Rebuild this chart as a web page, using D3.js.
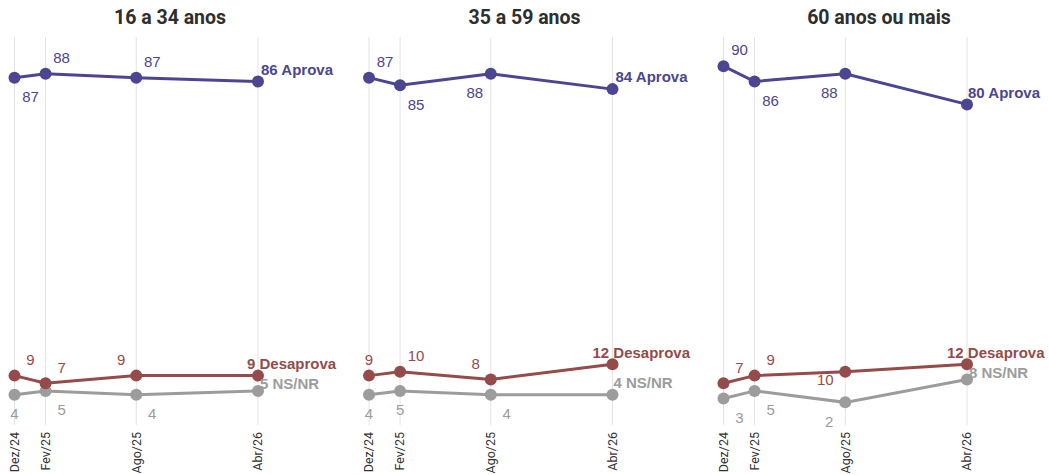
<!DOCTYPE html>
<html><head><meta charset="utf-8">
<script src="https://cdn.jsdelivr.net/npm/d3@7"></script>
<style>
html,body{margin:0;padding:0;background:#fff;}
</style></head>
<body>
<svg id="chart" width="1049" height="475"></svg>
<script>
// ---- DATA ----
const panels = ["16 a 34 anos", "35 a 59 anos", "60 anos ou mais"];
const dates = ["2024-12-01", "2025-02-01", "2025-08-01", "2026-04-01"];
const tickLabels = ["Dez/24", "Fev/25", "Ago/25", "Abr/26"];
const seriesNames = ["Aprova", "Desaprova", "NS/NR"];
const aprova    = [[87, 88, 87, 86], [87, 85, 88, 84], [90, 86, 88, 80]];
const desaprova = [[9, 7, 9, 9],     [9, 10, 8, 12],   [7, 9, 10, 12]];
const nsnr      = [[4, 5, 4, 5],     [4, 5, 4, 4],     [3, 5, 2, 8]];

// label placement codes (a=above, b=below, r=right, l=left)
const aprovaLab    = [["br", "ar", "ar"], ["ar", "br", "bl"], ["ar", "br", "bl"]];
const desaprovaLab = [["ar", "ar", "al"], ["a", "ar", "al"], ["ar", "ar", "l"]];
const nsnrLab      = [["b", "br", "br"], ["b", "b", "br"], ["br", "br", "bl"]];
const endLab = [["ar", "al", "r"], ["ar", "al2", "r2"], ["r2", "al2", "r"]];

const colors = ["#4b4592", "#954b49", "#9c9c9c"];

// ---- DRAW ----
const svg = d3.select("#chart");
const panelW = 354.5;
const parse = d3.timeParse("%Y-%m-%d");
const dvals = dates.map(parse);
const x = d3.scaleTime().domain([dvals[0], dvals[3]]).range([14.5, 258]);
const y = d3.scaleLinear().domain([0, 100]).range([410, 28]);

const allSeries = [aprova, desaprova, nsnr];
const allLab = [aprovaLab, desaprovaLab, nsnrLab];

const off = {
  a: [0, -16, "middle"], b: [0, 19, "middle"],
  ar: [16, -16, "middle"], br: [16, 19, "middle"],
  al: [-15, -16, "middle"], bl: [-16, 19, "middle"],
  l: [-20, 8, "middle"]
};
const endOff = {
  ar: [3, -12, "start"], al: [-11, -12, "start"], al2: [-20, -11, "start"],
  r: [2, -7, "start"], r2: [1, -12, "start"]
};

panels.forEach((title, p) => {
  const g = svg.append("g").attr("transform", `translate(${p * panelW},0)`);
  g.append("text").attr("x", 170).attr("y", 23.5).attr("text-anchor", "middle")
    .attr("font-family", "Roboto").attr("font-weight", "bold").attr("font-size", "19.5px")
    .attr("fill", "#2e2e2e").text(title);

  // gridlines
  g.selectAll("line.grid").data(dvals).enter().append("line")
    .attr("x1", d => x(d)).attr("x2", d => x(d)).attr("y1", 37).attr("y2", 425)
    .attr("stroke", "#e4e4e4").attr("stroke-width", 1);

  // tick labels
  g.selectAll("text.tick").data(dvals).enter().append("text")
    .attr("transform", (d) => `translate(${x(d)},432) rotate(-90)`)
    .attr("dy", "0.35em").attr("text-anchor", "end")
    .attr("font-family", "Roboto").attr("font-size", "12.5px").attr("fill", "#333")
    .text((d, i) => tickLabels[i]);

  const line = d3.line().x((d, i) => x(dvals[i])).y(d => y(d));

  // draw in order: NS/NR, Desaprova, Aprova
  [2, 1, 0].forEach(s => {
    const vals = allSeries[s][p];
    g.append("path").datum(vals).attr("d", line).attr("fill", "none")
      .attr("stroke", colors[s]).attr("stroke-width", 3);
    g.selectAll(null).data(vals).enter().append("circle")
      .attr("cx", (d, i) => x(dvals[i])).attr("cy", d => y(d)).attr("r", 6)
      .attr("fill", colors[s]);
  });

  [0, 1, 2].forEach(s => {
    const vals = allSeries[s][p];
    vals.forEach((v, i) => {
      if (i < 3) {
        const o = off[allLab[s][p][i]];
        g.append("text").attr("x", x(dvals[i]) + o[0]).attr("y", y(v) + o[1])
          .attr("dy", "0.35em").attr("text-anchor", o[2])
          .attr("font-family", "Liberation Sans, Arial").attr("font-size", "15px")
          .attr("fill", colors[s]).text(v);
      } else {
        const o = endOff[endLab[p][s]];
        g.append("text").attr("x", x(dvals[i]) + o[0]).attr("y", y(v) + o[1])
          .attr("dy", "0.35em").attr("text-anchor", o[2])
          .attr("font-family", "Liberation Sans, Arial").attr("font-weight", "bold")
          .attr("font-size", "15px").attr("fill", colors[s])
          .text(v + " " + seriesNames[s]);
      }
    });
  });
});
</script>
</body></html>
